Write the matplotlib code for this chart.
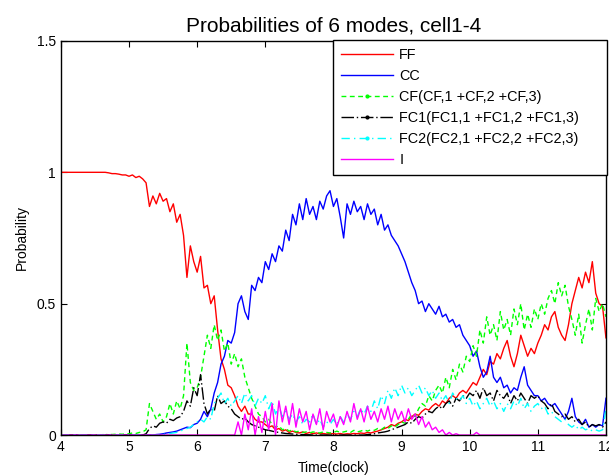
import numpy as np
import matplotlib
matplotlib.use('Agg')
import matplotlib.pyplot as plt
from matplotlib.lines import Line2D

plt.rcParams['font.family'] = ['Liberation Sans', 'DejaVu Sans']

# time axis: one sample every 0.05 clock from 4 to 12
t = np.linspace(4, 12, 161)

# probabilities, one row per clock unit
ff = [1.0, 1.0, 1.0, 1.0, 1.0, 1.0, 1.0, 1.0, 1.0, 1.0, 1.0, 1.0, 1.0, 1.0, 0.998, 0.995, 0.995, 0.993, 0.99, 0.99,
      0.985, 0.99, 0.98, 0.985, 0.975, 0.96, 0.87, 0.91, 0.88, 0.92, 0.89, 0.90, 0.85, 0.88, 0.81, 0.84, 0.76, 0.60, 0.72, 0.66,
      0.62, 0.68, 0.56, 0.57, 0.50, 0.53, 0.40, 0.29, 0.25, 0.19, 0.18, 0.15, 0.11, 0.09, 0.11, 0.08, 0.08, 0.06, 0.05, 0.05,
      0.04, 0.03, 0.035, 0.02, 0.025, 0.015, 0.02, 0.01, 0.015, 0.01, 0.008, 0.012, 0.006, 0.01, 0.005, 0.008, 0.005, 0.006, 0.004, 0.006,
      0.005, 0.004, 0.006, 0.003, 0.005, 0.004, 0.006, 0.005, 0.008, 0.006, 0.01, 0.008, 0.012, 0.015, 0.02, 0.025, 0.03, 0.04, 0.035, 0.045,
      0.05, 0.06, 0.055, 0.07, 0.08, 0.075, 0.09, 0.10, 0.095, 0.11, 0.12, 0.11, 0.13, 0.12, 0.14, 0.15, 0.14, 0.16, 0.17, 0.16,
      0.18, 0.20, 0.19, 0.22, 0.25, 0.23, 0.28, 0.27, 0.31, 0.29, 0.33, 0.36, 0.30, 0.26, 0.31, 0.38, 0.34, 0.30, 0.33, 0.31,
      0.35, 0.38, 0.42, 0.40, 0.45, 0.47, 0.41, 0.38, 0.36, 0.42, 0.50, 0.55, 0.60, 0.56, 0.62, 0.58, 0.66, 0.54, 0.50, 0.49,
      0.37]

cc = [0.0, 0.0, 0.0, 0.0, 0.0, 0.0, 0.0, 0.0, 0.0, 0.0, 0.0, 0.0, 0.0, 0.0, 0.0, 0.0, 0.0, 0.0, 0.0, 0.0,
      0.0, 0.0, 0.0, 0.0, 0.0, 0.0, 0.0, 0.0, 0.002, 0.003, 0.005, 0.008, 0.01, 0.012, 0.015, 0.02, 0.025, 0.03, 0.028, 0.04,
      0.045, 0.06, 0.09, 0.07, 0.10, 0.16, 0.20, 0.27, 0.30, 0.36, 0.35, 0.39, 0.50, 0.53, 0.47, 0.44, 0.57, 0.55, 0.60, 0.58,
      0.66, 0.63, 0.69, 0.66, 0.72, 0.70, 0.78, 0.74, 0.84, 0.80, 0.88, 0.82, 0.90, 0.84, 0.87, 0.82, 0.89, 0.86, 0.91, 0.93,
      0.87, 0.90, 0.83, 0.75, 0.88, 0.84, 0.89, 0.85, 0.87, 0.82, 0.88, 0.84, 0.86, 0.80, 0.84, 0.78, 0.80, 0.76, 0.74, 0.72,
      0.69, 0.66, 0.62, 0.58, 0.55, 0.50, 0.51, 0.47, 0.50, 0.48, 0.46, 0.49, 0.45, 0.46, 0.43, 0.44, 0.41, 0.42, 0.38, 0.36,
      0.34, 0.30, 0.32, 0.26, 0.22, 0.24, 0.30, 0.22, 0.20, 0.22, 0.18, 0.19, 0.16, 0.18, 0.17, 0.22, 0.26, 0.19, 0.17, 0.15,
      0.15, 0.13, 0.14, 0.12, 0.11, 0.12, 0.10, 0.08, 0.06, 0.09, 0.14, 0.07, 0.05, 0.04, 0.06, 0.03, 0.04, 0.03, 0.04, 0.035,
      0.14]

cf = [0.0, 0.0, 0.0, 0.0, 0.0, 0.0, 0.0, 0.0, 0.0, 0.0, 0.0, 0.0, 0.002, 0.001, 0.003, 0.002, 0.003, 0.004, 0.003, 0.005,
      0.005, 0.008, 0.006, 0.01, 0.012, 0.02, 0.12, 0.09, 0.06, 0.08, 0.05, 0.07, 0.12, 0.08, 0.13, 0.10, 0.15, 0.35, 0.20, 0.17,
      0.18, 0.22, 0.30, 0.38, 0.33, 0.42, 0.36, 0.40, 0.32, 0.35, 0.27, 0.31, 0.26, 0.29, 0.22, 0.18, 0.14, 0.11, 0.08, 0.07,
      0.05, 0.06, 0.04, 0.03, 0.035, 0.02, 0.025, 0.015, 0.02, 0.012, 0.015, 0.01, 0.012, 0.008, 0.012, 0.01, 0.008, 0.012, 0.01, 0.008,
      0.01, 0.015, 0.01, 0.012, 0.015, 0.01, 0.018, 0.012, 0.015, 0.02, 0.015, 0.02, 0.018, 0.025, 0.02, 0.03, 0.025, 0.035, 0.03, 0.04,
      0.05, 0.045, 0.06, 0.08, 0.07, 0.10, 0.12, 0.11, 0.15, 0.13, 0.17, 0.19, 0.16, 0.22, 0.18, 0.25, 0.21, 0.27, 0.24, 0.30,
      0.28, 0.34, 0.30, 0.40, 0.35, 0.45, 0.38, 0.42, 0.36, 0.47, 0.40, 0.44, 0.38, 0.48, 0.42, 0.50, 0.40, 0.46, 0.41, 0.48,
      0.44, 0.50, 0.46, 0.52, 0.55, 0.50, 0.58, 0.53, 0.57, 0.49, 0.44, 0.38, 0.46, 0.35, 0.42, 0.48, 0.40, 0.52, 0.47, 0.50,
      0.45]

fc1 = [0.0, 0.0, 0.0, 0.0, 0.0, 0.0, 0.0, 0.0, 0.0, 0.0, 0.0, 0.0, 0.0, 0.0, 0.0, 0.0, 0.0, 0.0, 0.0, 0.0,
       0.0, 0.0, 0.0, 0.0, 0.0, 0.005, 0.025, 0.035, 0.03, 0.045, 0.05, 0.045, 0.06, 0.055, 0.065, 0.07, 0.09, 0.13, 0.11, 0.18,
       0.15, 0.23, 0.12, 0.08, 0.10, 0.09, 0.15, 0.12, 0.13, 0.11, 0.10, 0.08, 0.07, 0.06, 0.065, 0.05, 0.04, 0.035, 0.03, 0.025,
       0.02, 0.018, 0.015, 0.012, 0.01, 0.008, 0.006, 0.005, 0.004, 0.003, 0.002, 0.002, 0.001, 0.001, 0.0, 0.0, 0.0, 0.0, 0.0, 0.0,
       0.0, 0.0, 0.0, 0.0, 0.0, 0.0, 0.0, 0.0, 0.0, 0.0, 0.002, 0.003, 0.005, 0.008, 0.01, 0.012, 0.015, 0.02, 0.025, 0.03,
       0.035, 0.04, 0.05, 0.045, 0.06, 0.07, 0.065, 0.08, 0.09, 0.085, 0.10, 0.11, 0.10, 0.12, 0.13, 0.11, 0.14, 0.13, 0.15, 0.14,
       0.16, 0.15, 0.17, 0.14, 0.18, 0.15, 0.16, 0.13, 0.17, 0.15, 0.14, 0.16, 0.12, 0.15, 0.13, 0.16, 0.14, 0.12, 0.15, 0.14,
       0.15, 0.13, 0.12, 0.10, 0.12, 0.09, 0.08, 0.07, 0.08, 0.06, 0.07, 0.05, 0.06, 0.04, 0.05, 0.03, 0.04, 0.035, 0.04, 0.03,
       0.05]

fc2 = [0.0, 0.0, 0.0, 0.0, 0.0, 0.0, 0.0, 0.0, 0.0, 0.0, 0.0, 0.0, 0.0, 0.0, 0.0, 0.0, 0.0, 0.0, 0.0, 0.0,
       0.0, 0.0, 0.0, 0.0, 0.0, 0.0, 0.0, 0.0, 0.0, 0.0, 0.002, 0.004, 0.006, 0.008, 0.01, 0.015, 0.02, 0.025, 0.03, 0.04,
       0.05, 0.06, 0.05, 0.07, 0.06, 0.12, 0.14, 0.16, 0.12, 0.14, 0.11, 0.13, 0.15, 0.12, 0.16, 0.13, 0.15, 0.11, 0.14, 0.12,
       0.15, 0.10, 0.13, 0.08, 0.11, 0.07, 0.09, 0.06, 0.08, 0.05, 0.07, 0.04, 0.06, 0.05, 0.08, 0.04, 0.06, 0.03, 0.05, 0.04,
       0.06, 0.04, 0.07, 0.05, 0.08, 0.06, 0.09, 0.07, 0.10, 0.08, 0.11, 0.09, 0.13, 0.10, 0.15, 0.12, 0.17, 0.14, 0.18, 0.15,
       0.19, 0.16, 0.18, 0.15, 0.17, 0.19, 0.16, 0.18, 0.15, 0.17, 0.14, 0.16, 0.13, 0.15, 0.12, 0.16, 0.14, 0.13, 0.15, 0.12,
       0.14, 0.11, 0.13, 0.10, 0.12, 0.14, 0.11, 0.13, 0.10, 0.12, 0.09, 0.12, 0.10, 0.13, 0.11, 0.14, 0.10, 0.12, 0.09, 0.11,
       0.12, 0.10, 0.11, 0.08, 0.09, 0.07, 0.06, 0.05, 0.06, 0.04, 0.03, 0.04, 0.02, 0.03, 0.02, 0.025, 0.015, 0.02, 0.015, 0.02,
       0.10]

i_mode = [0.0, 0.0, 0.0, 0.0, 0.0, 0.0, 0.0, 0.0, 0.0, 0.0, 0.0, 0.0, 0.0, 0.0, 0.0, 0.0, 0.0, 0.0, 0.0, 0.0,
          0.0, 0.0, 0.0, 0.0, 0.0, 0.0, 0.0, 0.0, 0.0, 0.0, 0.0, 0.0, 0.0, 0.0, 0.0, 0.0, 0.0, 0.0, 0.0, 0.0,
          0.0, 0.0, 0.0, 0.0, 0.0, 0.0, 0.0, 0.0, 0.0, 0.0, 0.0, 0.0, 0.05, 0.0, 0.08, 0.02, 0.10, 0.0, 0.07, 0.01,
          0.09, 0.02, 0.12, 0.0, 0.13, 0.05, 0.11, 0.04, 0.12, 0.03, 0.10, 0.05, 0.09, 0.02, 0.08, 0.04, 0.10, 0.02, 0.09, 0.05,
          0.08, 0.03, 0.07, 0.04, 0.09, 0.05, 0.12, 0.06, 0.10, 0.05, 0.11, 0.06, 0.09, 0.05, 0.10, 0.06, 0.11, 0.05, 0.10, 0.06,
          0.09, 0.05, 0.10, 0.06, 0.08, 0.04, 0.07, 0.03, 0.05, 0.02, 0.03, 0.01, 0.02, 0.0, 0.01, 0.0, 0.005, 0.0, 0.0, 0.0,
          0.0, 0.0, 0.01, 0.0, 0.0, 0.0, 0.0, 0.0, 0.0, 0.0, 0.0, 0.0, 0.0, 0.0, 0.0, 0.0, 0.0, 0.0, 0.0, 0.0,
          0.0, 0.0, 0.0, 0.0, 0.0, 0.0, 0.0, 0.0, 0.0, 0.0, 0.0, 0.0, 0.0, 0.0, 0.0, 0.0, 0.0, 0.0, 0.0, 0.0,
          0.0]

labels = ['FF', 'CC', 'CF(CF,1 +CF,2 +CF,3)', 'FC1(FC1,1 +FC1,2 +FC1,3)',
          'FC2(FC2,1 +FC2,2 +FC2,3)', 'I']

fig = plt.figure(figsize=(6.09, 4.76), dpi=100)
ax = fig.add_axes([0.100, 0.086, 0.895, 0.828])

lw = 1.0
cf_style = dict(color='#00ff00', lw=lw, ls=(0, (3.5, 2.5)))
fc1_style = dict(color='black', lw=lw, ls=(0, (9, 2, 1, 2)))
fc2_style = dict(color='#00ffff', lw=lw, ls=(0, (6, 3, 1, 3)))

h_ff, = ax.plot(t, ff, color='#ff0000', lw=lw)
h_cc, = ax.plot(t, cc, color='#0000ff', lw=lw)
ax.plot(t, cf, **cf_style)
ax.plot(t, fc1, **fc1_style)
ax.plot(t, fc2, **fc2_style)
h_i, = ax.plot(t, i_mode, color='#ff00ff', lw=lw)

# legend keys for the broken styles, with the centre dot as in the original
handles = [h_ff, h_cc,
           Line2D([], [], marker='.', markersize=4, **cf_style),
           Line2D([], [], marker='.', markersize=4, **fc1_style),
           Line2D([], [], marker='.', markersize=4, **fc2_style),
           h_i]

ax.set_xlim(4, 12)
ax.set_ylim(0, 1.5)
ax.set_xticks(range(4, 13))
ax.set_yticks([0, 0.5, 1, 1.5])
ax.set_yticklabels(['0', '0.5', '1', '1.5'])
ax.tick_params(direction='in', length=4, top=True, right=True, labelsize=10)
for s in ax.spines.values():
    s.set_linewidth(1.0)

ax.set_title('Probabilities of 6 modes, cell1-4', fontsize=15, pad=7)
ax.set_xlabel('Time(clock)', fontsize=10, labelpad=5)
ax.set_ylabel('Probability', fontsize=10, labelpad=6)

leg = ax.legend(handles, labels, loc='upper left', bbox_to_anchor=(0.499, 0, 0.503, 1.0025),
                mode='expand', fontsize=10.4, fancybox=False, framealpha=1, edgecolor='black',
                handlelength=3.6, handletextpad=0.45, labelspacing=0.48,
                borderaxespad=0, borderpad=0.55, numpoints=1)
leg.get_frame().set_linewidth(1.0)

fig.savefig('out.png', dpi=100)
